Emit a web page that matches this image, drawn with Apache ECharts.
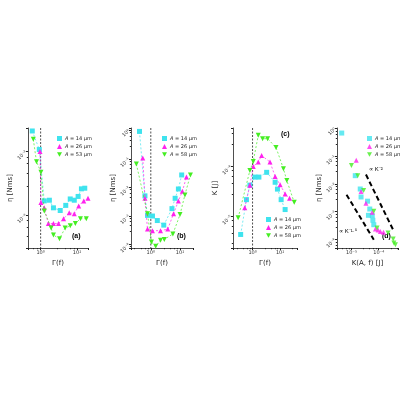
<!DOCTYPE html>
<html>
<head>
<meta charset="utf-8">
<script src="https://cdn.jsdelivr.net/npm/echarts@6/dist/echarts.min.js"></script>
<style>html,body{margin:0;background:#fff}#main{width:400px;height:400px}</style>
</head>
<body>
<div id="main"></div>
<script>
// panel (a): eta vs Gamma(f)
var aCyanX = [0.59, 0.92, 1.26, 1.74, 2.25, 3.45, 4.9, 6.5, 8.4, 10.7, 13.2, 16.3];
var aCyanY = [0.021, 0.0107, 0.00166, 0.0017, 0.00129, 0.00117, 0.00141, 0.00178, 0.0017, 0.00195, 0.00257, 0.00263];
var aMagX = [0.96, 1.02, 1.26, 1.63, 2.25, 3.1, 4.26, 6.1, 8.4, 11.1, 15.3, 20];
var aMagY = [0.01, 0.00156, 0.00129, 0.00073, 0.00073, 0.00073, 0.00087, 0.00108, 0.00104, 0.00138, 0.00166, 0.00183];
var aGrnX = [0.63, 0.77, 1.02, 1.26, 1.94, 2.25, 3.3, 4.7, 6.5, 9, 12.4, 18];
var aGrnY = [0.0155, 0.0069, 0.0047, 0.00115, 0.00062, 0.00048, 0.00042, 0.00062, 0.00067, 0.00073, 0.00087, 0.00087];
// panel (b)
var bCyanX = [0.41, 0.63, 0.77, 1.14, 1.67, 2.78, 5.3, 6.8, 8.8, 11.4];
var bCyanY = [0.91, 0.005, 0.00103, 0.00098, 0.00068, 0.00047, 0.00178, 0.0041, 0.0087, 0.027];
var bMagX = [0.53, 0.63, 0.77, 1.14, 2.15, 3.8, 6, 8.8, 12, 16.6];
var bMagY = [0.106, 0.0041, 0.00034, 0.0003, 0.0003, 0.00034, 0.00118, 0.0033, 0.0072, 0.023];
var bGrnX = [0.32, 0.77, 1.05, 1.47, 2.15, 2.9, 5.7, 10, 14.7, 22.7];
var bGrnY = [0.066, 0.00118, 0.00012, 0.000085, 0.000138, 0.000148, 0.00023, 0.0011, 0.0054, 0.027];
// panel (c): K vs Gamma(f)
var cCyanX = [0.37, 0.6, 0.8, 1.22, 1.7, 3.25, 6.6, 8, 10.9, 15.2];
var cCyanY = [4.3e-6, 2.15e-5, 4.2e-5, 6.1e-5, 6.1e-5, 7.6e-5, 4.8e-5, 3.5e-5, 2.15e-5, 1.36e-5];
var cMagX = [0.52, 0.8, 1.06, 1.61, 2.13, 4.3, 6.6, 10, 15.2, 22];
var cMagY = [1.47e-5, 4.2e-5, 1e-4, 1.22e-4, 1.66e-4, 1.22e-4, 6.3e-5, 4.3e-5, 2.8e-5, 2.3e-5];
var cGrnX = [0.3, 0.8, 1.06, 1.61, 2.32, 3.5, 7.1, 13.2, 17.5, 32.5];
var cGrnY = [9.3e-6, 8.3e-5, 1.26e-4, 4.2e-4, 3.6e-4, 3.6e-4, 2.4e-4, 9e-5, 5.2e-5, 1.9e-5];
// panel (d): eta vs K
var dCyanX = [4.4e-6, 1.38e-5, 2.1e-5, 2.25e-5, 3.9e-5, 4.7e-5, 4.2e-5, 5.8e-5, 6.1e-5, 6.6e-5];
var dCyanY = [0.69, 0.02, 0.0066, 0.0034, 0.0024, 0.00125, 0.00074, 0.00072, 0.00049, 0.00034];
var dMagX = [1.5e-5, 2.25e-5, 3.4e-5, 5.8e-5, 7.6e-5, 9.5e-5, 1.15e-4, 1.5e-4];
var dMagY = [0.072, 0.0054, 0.002, 0.00095, 0.00024, 0.00022, 0.000195, 0.00018];
var dGrnX = [1e-5, 1.7e-5, 2.8e-5, 6.6e-5, 8.7e-5, 2.2e-4, 3.4e-4, 3.6e-4, 4.1e-4];
var dGrnY = [0.047, 0.02, 0.0058, 0.00103, 0.00026, 0.00017, 0.000103, 0.000074, 0.000064];
var slope2X = [3.4e-5, 3.4e-4], slope2Y = [0.022, 2.2e-4];
var slope15X = [6.6e-6, 6.6e-5], slope15Y = [0.0041, 9.8e-5];

var cols = ['#3fe3ee', '#ff22ee', '#44ee22'];
var syms = ['rect', 'triangle', 'path://M0,0L10,0L5,9Z'];
var names = [
  ['A = 14 μm', 'A = 26 μm', 'A = 53 μm'],
  ['A = 14 μm', 'A = 26 μm', 'A = 58 μm'],
  ['A = 14 μm', 'A = 26 μm', 'A = 58 μm'],
  ['A = 14 μm', 'A = 26 μm', 'A = 58 μm']
];
var panels = [
  [[aCyanX, aCyanY], [aMagX, aMagY], [aGrnX, aGrnY]],
  [[bCyanX, bCyanY], [bMagX, bMagY], [bGrnX, bGrnY]],
  [[cCyanX, cCyanY], [cMagX, cMagY], [cGrnX, cGrnY]],
  [[dCyanX, dCyanY], [dMagX, dMagY], [dGrnX, dGrnY]]
];
var lefts = [28, 131, 233, 337];
var widths = [60, 62, 64, 61];
var xr = [[0.45, 20], [0.21, 27.8], [0.195, 41], [2.95e-6, 5.1e-4]];
var yr = [[0.0234, 0.0003], [1.2, 7.4e-5], [5.9e-4, 2.3e-6], [1.05, 4.9e-5]];
var xNames = ['Γ(f)', 'Γ(f)', 'Γ(f)', 'K(A, f) [J]'];
var yNames = ['η [Nms]', 'η [Nms]', 'K [J]', 'η [Nms]'];
var tags = ['(a)', '(b)', '(c)', '(d)'];

var sup = {'-': '⁻', '0': '⁰', '1': '¹', '2': '²', '3': '³', '4': '⁴', '5': '⁵', '6': '⁶'};
function pow10(v) {
  var e = Math.log10(v);
  if (Math.abs(e - Math.round(e)) > 0.01) return '';
  return '10' + String(Math.round(e)).split('').map(function (c) { return sup[c]; }).join('');
}

var grid = [], xAxis = [], yAxis = [], series = [], legend = [], graphic = [];
panels.forEach(function (p, i) {
  grid.push({left: lefts[i], width: widths[i], top: 128, height: 120});
  xAxis.push({
    type: 'log', gridIndex: i, min: xr[i][0], max: xr[i][1],
    name: xNames[i], nameLocation: 'middle', nameGap: 12,
    nameTextStyle: {fontSize: 7, color: '#222'},
    axisLine: {lineStyle: {color: '#222', width: 0.8}},
    axisTick: {length: 2, lineStyle: {color: '#222'}},
    minorTick: {show: true, length: 1.2, lineStyle: {color: '#222'}},
    splitLine: {show: false},
    axisLabel: {fontSize: 5, color: '#333', margin: 2, formatter: pow10, showMinLabel: false, showMaxLabel: false}
  });
  yAxis.push({
    type: 'log', gridIndex: i, min: yr[i][1], max: yr[i][0],
    name: yNames[i], nameLocation: 'middle', nameGap: 14,
    nameTextStyle: {fontSize: 7, color: '#222'},
    axisLine: {lineStyle: {color: '#222', width: 0.8}},
    axisTick: {length: 2, lineStyle: {color: '#222'}},
    minorTick: {show: true, length: 1.2, lineStyle: {color: '#222'}},
    splitLine: {show: false},
    axisLabel: {fontSize: 5, color: '#333', margin: 2, rotate: 45, formatter: pow10, showMinLabel: false, showMaxLabel: false}
  });
  var legendNames = [];
  p.forEach(function (s, k) {
    var nm = names[i][k] + ' #' + i;
    legendNames.push({name: nm, icon: syms[k]});
    series.push({
      name: nm, type: i < 3 ? 'line' : 'scatter', xAxisIndex: i, yAxisIndex: i,
      symbol: syms[k], symbolSize: 5, showSymbol: true,
      itemStyle: {color: cols[k]},
      lineStyle: {color: cols[k], width: 0.7, type: [2, 2]},
      data: s[0].map(function (x, j) { return [x, s[1][j]]; }),
      z: 3 + k
    });
  });
  legend.push({
    data: legendNames, orient: 'vertical',
    left: lefts[i] + widths[i] - 36, top: i === 2 ? 212 : 131,
    itemWidth: 5, itemHeight: 5, itemGap: 3, selectedMode: false,
    formatter: function (n) { return '{i|A} ' + n.slice(2, n.indexOf(' #')); },
    textStyle: {fontSize: 5, color: '#222', padding: [0, 0, 0, -2], rich: {i: {fontStyle: 'italic', fontSize: 5}}}
  });
  graphic.push({
    type: 'text', left: lefts[i] + widths[i] - 16, top: i === 2 ? 131 : 233,
    style: {text: tags[i], fontSize: 7, fontWeight: 'bold', fill: '#000'}
  });
});

// vertical dashed line at Gamma = 1 in a, b, c
[0, 1, 2].forEach(function (i) {
  series.push({
    type: 'line', xAxisIndex: i, yAxisIndex: i, symbol: 'none', silent: true,
    lineStyle: {color: '#222', width: 0.8, type: [2, 1.5]},
    data: [[1, yr[i][0]], [1, yr[i][1]]], z: 1
  });
});
// power-law guide lines in d
[[slope2X, slope2Y], [slope15X, slope15Y]].forEach(function (g) {
  series.push({
    type: 'line', xAxisIndex: 3, yAxisIndex: 3, symbol: 'none', silent: true,
    lineStyle: {color: '#000', width: 2, type: [5, 3]},
    data: [[g[0][0], g[1][0]], [g[0][1], g[1][1]]], z: 2
  });
});
graphic.push({type: 'text', left: 369, top: 166, style: {text: '∝ K⁻²', fontSize: 6, fill: '#000'}});
graphic.push({type: 'text', left: 339, top: 228, style: {text: '∝ K⁻¹·⁵', fontSize: 6, fill: '#000'}});

var chart = echarts.init(document.getElementById('main'));
chart.setOption({
  animation: false,
  textStyle: {fontFamily: 'DejaVu Sans'},
  grid: grid, xAxis: xAxis, yAxis: yAxis, legend: legend, graphic: graphic, series: series
});
</script>
</body>
</html>
